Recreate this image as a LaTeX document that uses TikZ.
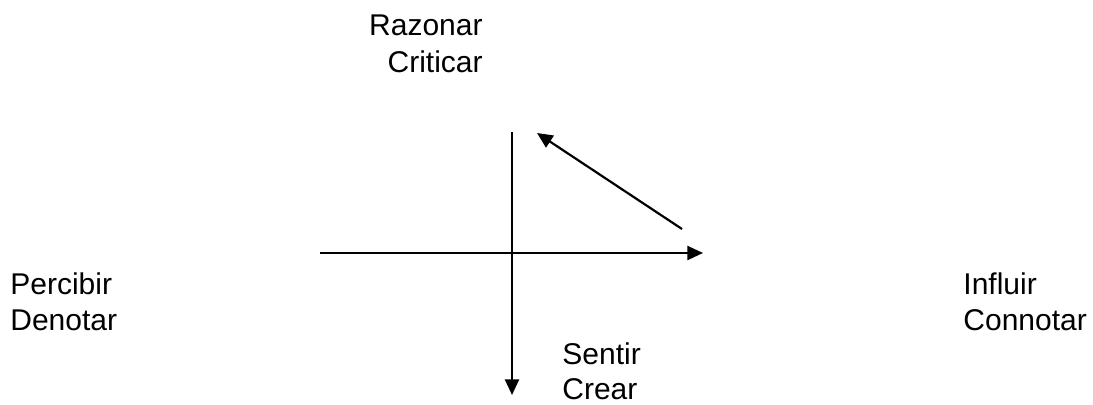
\documentclass[tikz,border=0pt]{standalone}
\usepackage{fontspec}
\setmainfont{Liberation Sans}
\usetikzlibrary{arrows.meta}

\begin{document}
\begin{tikzpicture}[x=0.5pt,y=-0.5pt,
    lbl/.style={inner sep=0pt,font=\fontsize{15}{18}\selectfont},
    axis/.style={line width=1.1pt,-{Triangle[length=7.8pt,width=7pt]}}
  ]
    \useasboundingbox (0,0) rectangle (1093,405);
    % axes end points
    \coordinate (left) at (320,253);
    \coordinate (right) at (703,253);
    \coordinate (top) at (512,132);
    \coordinate (bottom) at (512,395);
    \coordinate (diagstart) at (682,229);
    \coordinate (diagend) at (537,133);
    % labels
    \node[lbl,anchor=base east] (razonar) at (483,36) {Razonar};
    \node[lbl,anchor=base east] (criticar) at (483,73) {Criticar};
    \node[lbl,anchor=base west] (percibir) at (10,295) {Percibir};
    \node[lbl,anchor=base west] (denotar) at (10,331) {Denotar};
    \node[lbl,anchor=base west] (influir) at (963,295) {Influir};
    \node[lbl,anchor=base west] (connotar) at (963,331) {Connotar};
    \node[lbl,anchor=base west] (sentir) at (562,365) {Sentir};
    \node[lbl,anchor=base west] (crear) at (562,400) {Crear};
    \draw[axis] (left)--(right);
    \draw[axis] (top)--(bottom);
    \draw[axis] (diagstart)--(diagend);
  \end{tikzpicture}
\end{document}
